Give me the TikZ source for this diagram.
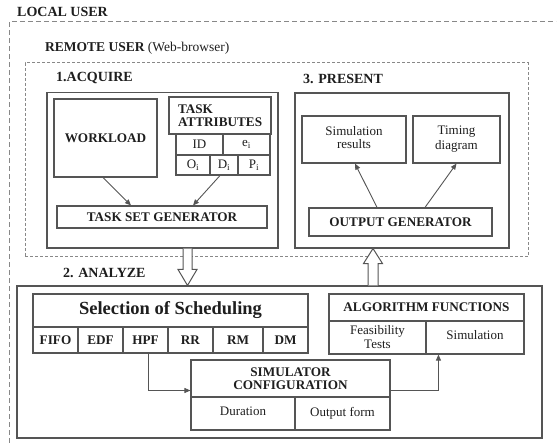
\documentclass[tikz,border=0pt]{standalone}
\usepackage{fontspec}
\setmainfont{Liberation Serif}
\usetikzlibrary{calc,arrows.meta}

\definecolor{linegray}{HTML}{555555}
\definecolor{dashgray}{HTML}{888888}
\definecolor{inkgray}{HTML}{1E1E1E}

\begin{document}
\begin{tikzpicture}[x=1pt,y=-1pt,
  font=\fontsize{13}{14}\selectfont, text=inkgray,
  box/.style={draw=linegray, line width=1.1pt, rectangle, inner sep=0pt, align=center},
  bf/.style={font=\fontsize{13.2}{13.5}\selectfont\bfseries},
  cell/.style={box, bf, minimum height=26},
  conn/.style={draw=linegray, line width=0.9pt, -{Triangle[length=6pt,width=5pt]}},
  hollow/.style={draw=linegray, line width=1pt, fill=white},
  zone/.style={draw=dashgray, line width=1pt, dash pattern=on 3pt off 2pt},
  title/.style={anchor=west, inner sep=0pt, font=\fontsize{14}{15}\selectfont\bfseries},
]
\useasboundingbox (0,0) rectangle (558,446);

% outer frames
\draw[zone, dash pattern=on 5pt off 3pt] (9,443) |- (556,22);
\node[zone, minimum width=503, minimum height=194, inner sep=0pt] (remote) at (276.5,160) {};

% section titles
\node[title] (lbllocal) at (17,12) {LOCAL USER};
\node[anchor=west, inner sep=0pt, font=\fontsize{13.5}{15}\selectfont] (lblremote) at (45,48.5) {\bfseries REMOTE USER \mdseries(Web-browser)};
\node[title] (lblacq) at (56,78.5) {1.ACQUIRE};
\node[title] (lblpres) at (303,79) {3. PRESENT};
\node[title] (lblana) at (63,273) {2. ANALYZE};

% 1. acquire
\node[box, minimum width=231, minimum height=155.5] (acq) at (162.5,170.25) {};
\node[box, bf, minimum width=103, minimum height=78] (work) at (105.5,138) {WORKLOAD};
\node[box, bf, minimum width=102, minimum height=37, text width=84pt, align=left, inner xsep=9pt] (attr) at (220,115.5) {TASK\\ATTRIBUTES};
\node[box, minimum width=47, minimum height=21] (tid) at (199.5,144.5) {ID};
\node[box, minimum width=47, minimum height=21] (tei) at (246.5,144.5) {e\textsubscript{i}};
\node[box, minimum width=34, minimum height=20] (toi) at (193,165) {O\textsubscript{i}};
\node[box, minimum width=28, minimum height=20] (tdi) at (224,165) {D\textsubscript{i}};
\node[box, minimum width=32, minimum height=20] (tpi) at (254,165) {P\textsubscript{i}};
\node[box, bf, minimum width=210, minimum height=22] (tsg) at (162,217) {TASK SET GENERATOR};
\draw[conn] ($(work.south)+(-2.5,0)$) -- ($(tsg.north)+(-31,0)$);
\draw[conn] ($(tdi.south)+(-4,0)$) -- ($(tsg.north)+(31,0)$);

% 3. present
\node[box, minimum width=214, minimum height=155] (pres) at (402,170.5) {};
\node[box, minimum width=104, minimum height=47] (simres) at (354,139.5) {\raisebox{4pt}{\shortstack{Simulation\\results}}};
\node[box, minimum width=87, minimum height=47] (timing) at (456.5,139.5) {\raisebox{4pt}{\shortstack{Timing\\diagram}}};
\node[box, bf, minimum width=183, minimum height=28] (outgen) at (400.5,222) {OUTPUT GENERATOR};
\draw[conn] ($(outgen.north)+(-23.5,0)$) -- ($(simres.south)+(1,0)$);
\draw[conn] ($(outgen.north)+(24.5,0)$) -- (timing.south);

% 2. analyze
\node[box, minimum width=525, minimum height=152] (ana) at (279.5,362) {};
\node[box, minimum width=275, minimum height=33, font=\fontsize{18.5}{20}\selectfont\bfseries] (sel) at (170.5,310.5) {Selection of Scheduling};
\node[cell, minimum width=45] (fifo) at (55.5,340) {FIFO};
\node[cell, minimum width=45] (edf) at (100.5,340) {EDF};
\node[cell, minimum width=45] (hpf) at (145.5,340) {HPF};
\node[cell, minimum width=45] (rr) at (190.5,340) {RR};
\node[cell, minimum width=50] (rm) at (238,340) {RM};
\node[cell, minimum width=45] (dm) at (285.5,340) {DM};

\node[box, bf, minimum width=199, minimum height=37] (cfg) at (290.5,378.5) {SIMULATOR\\CONFIGURATION};
\node[box, minimum width=104, minimum height=33] (dur) at (243,413.5) {\raisebox{4pt}{Duration}};
\node[box, minimum width=95, minimum height=33] (outf) at (342.5,413.5) {\raisebox{4pt}{Output form}};

\node[box, bf, minimum width=195, minimum height=27] (alg) at (426.5,307.5) {ALGORITHM FUNCTIONS};
\node[box, minimum width=97, minimum height=33] (feas) at (377.5,337.5) {Feasibility\\Tests};
\node[box, minimum width=98, minimum height=33] (simul) at (475,337.5) {\raisebox{5pt}{Simulation}};

\draw[conn] ($(hpf.south)+(2.5,0)$) |- ($(cfg.west)+(0,12)$);
\draw[conn] ($(cfg.east)+(0,12)$) -| ($(simul.south west)+(13,0)$);

% block arrows between the stages
\coordinate (dA) at ($(acq.south)+(25,0)$);
\coordinate (dB) at (dA |- ana.north);
\draw[hollow] ($(dA)+(-4.5,0)$) -- ($(dB)+(-4.5,-16)$) -- ($(dB)+(-9.5,-16)$) -- (dB)
  -- ($(dB)+(9.5,-16)$) -- ($(dB)+(4.5,-16)$) -- ($(dA)+(4.5,0)$);
\coordinate (uA) at ($(pres.south)+(-29,0)$);
\coordinate (uB) at (uA |- ana.north);
\draw[hollow] ($(uB)+(-5,0)$) -- ($(uA)+(-5,15)$) -- ($(uA)+(-9.5,15)$) -- (uA)
  -- ($(uA)+(9.5,15)$) -- ($(uA)+(5,15)$) -- ($(uB)+(5,0)$);
\end{tikzpicture}
\end{document}
